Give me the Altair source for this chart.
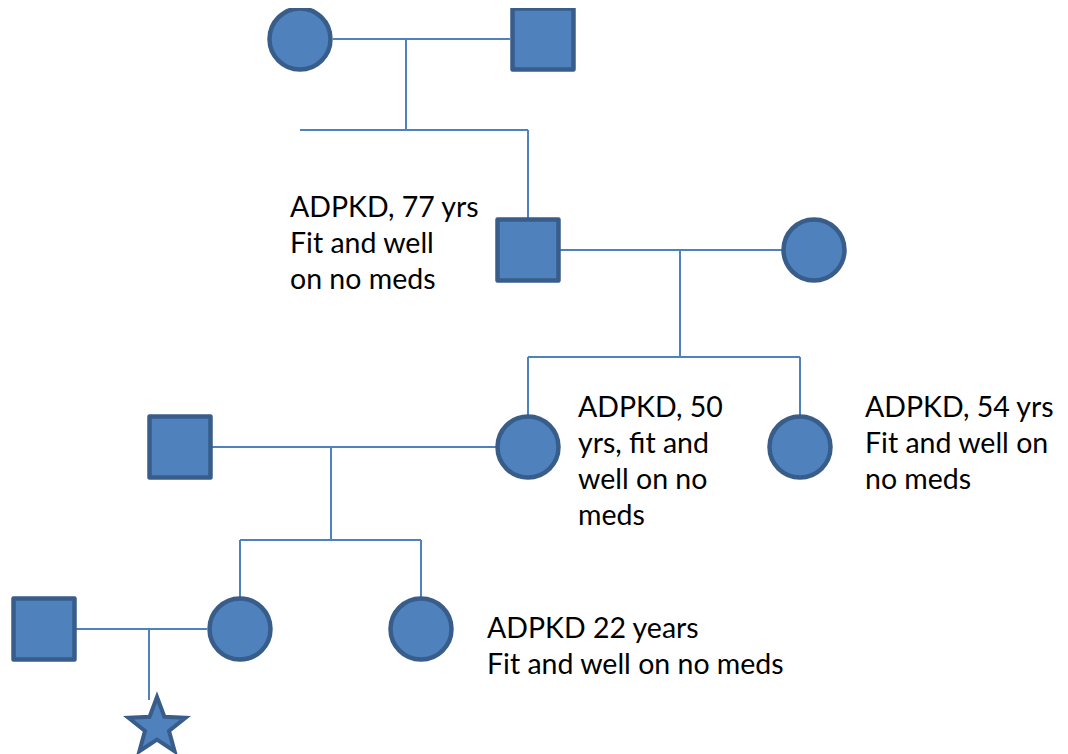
import altair as alt
import pandas as pd
import numpy as np

# ---- pedigree members (image pixel coordinates) ----
node_x = [300, 543, 528, 814, 180, 528, 800, 44, 240, 421]
node_y = [39, 39, 250, 250, 447, 447, 447, 629, 629, 629]
node_shape = ["circle", "square", "square", "circle", "square",
              "circle", "circle", "square", "circle", "circle"]

proband_x = [157]
proband_y = [727]

# ---- connecting lines ----
seg_x1 = [333, 406, 300, 528, 560, 680, 528, 528, 800, 212, 331, 240, 240, 421, 76, 149]
seg_y1 = [39, 39, 130, 130, 250, 250, 357, 357, 357, 447, 447, 540, 540, 540, 629, 629]
seg_x2 = [510, 406, 528, 528, 782, 680, 800, 528, 800, 496, 331, 421, 240, 421, 207, 149]
seg_y2 = [39, 130, 130, 218, 250, 357, 357, 415, 415, 447, 540, 540, 597, 597, 629, 700]

# ---- annotations ----
label_text = [
    "ADPKD, 77 yrs", "Fit and well", "on no meds",
    "ADPKD, 50", "yrs, fit and", "well on no", "meds",
    "ADPKD, 54 yrs", "Fit and well on", "no meds",
    "ADPKD 22 years", "Fit and well on no meds",
]
label_x = [290, 290, 290, 578, 578, 578, 578, 865, 865, 865, 487, 487]
label_y = [217, 253, 289, 417, 453, 489, 525, 417, 453, 489, 638, 674]

FILL = "#4F81BD"
EDGE = "#385D8A"

nodes = pd.DataFrame({"x": node_x, "y": node_y, "shape": node_shape})
proband = pd.DataFrame({"x": proband_x, "y": proband_y})
segs = pd.DataFrame({"x": seg_x1, "y": seg_y1, "x2": seg_x2, "y2": seg_y2})
labels = pd.DataFrame({"x": label_x, "y": label_y, "text": label_text})

W, H = 1052, 746
Y0 = 8
xs = alt.Scale(domain=[8, 8 + W], range=[0, W], nice=False, zero=False)
ys = alt.Scale(domain=[Y0, Y0 + H], range=[0, H], nice=False, zero=False)
X = lambda f="x": alt.X(f"{f}:Q", scale=xs, axis=None)
Y = lambda f="y": alt.Y(f"{f}:Q", scale=ys, axis=None)

lines = alt.Chart(segs).mark_rule(color=FILL, strokeWidth=2).encode(
    x=X(), y=Y(), x2="x2:Q", y2="y2:Q"
)

circles = alt.Chart(nodes).transform_filter(alt.datum.shape == "circle").mark_point(
    shape="circle", filled=False, fill=FILL, stroke=EDGE, strokeWidth=4.5,
    size=3720, opacity=1, fillOpacity=1
).encode(x=X(), y=Y())

squares = alt.Chart(nodes).transform_filter(alt.datum.shape == "square").mark_point(
    shape="square", filled=False, fill=FILL, stroke=EDGE, strokeWidth=4.5,
    size=3720, opacity=1, fillOpacity=1, strokeJoin="round"
).encode(x=X(), y=Y())

# five-pointed star path in unit space
pts = []
for i in range(10):
    ang = -np.pi / 2 + i * np.pi / 5
    r = 1.0 if i % 2 == 0 else 0.42
    pts.append(f"{r*np.cos(ang):.4f},{r*np.sin(ang):.4f}")
star_path = "M" + " L".join(pts) + " Z"

star = alt.Chart(proband).mark_point(
    shape=star_path, filled=False, fill=FILL, stroke=EDGE, strokeWidth=4,
    size=3600, opacity=1, fillOpacity=1, strokeJoin="miter"
).encode(x=X(), y=Y())

text = alt.Chart(labels).mark_text(
    align="left", baseline="alphabetic", font="Lato", fontSize=28.5, color="#000000"
).encode(x=X(), y=Y(), text="text:N")

chart = alt.layer(lines, circles, squares, star, text).properties(
    width=W, height=H, padding=0, background="white",
    autosize=alt.AutoSizeParams(type="none")
).configure_view(stroke=None)

chart.save("out.html", embed_options={"renderer": "svg", "actions": False})
